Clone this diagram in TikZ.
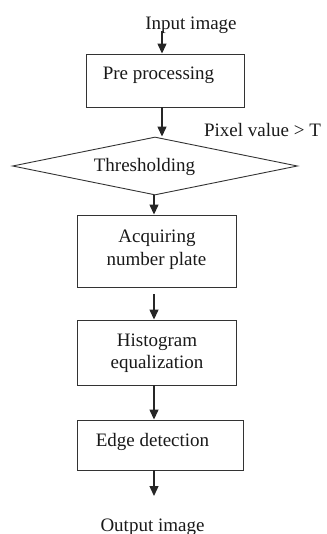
\documentclass[tikz,border=0pt]{standalone}
\usepackage{fontspec}
\setmainfont{Liberation Serif}
\usetikzlibrary{arrows.meta,shapes.geometric}
\begin{document}
\begin{tikzpicture}[x=1pt,y=-1pt,
  box/.style={draw=black!80,line width=0.9pt,rectangle,inner sep=0pt},
  decision/.style={draw=black!80,line width=0.9pt,diamond,inner sep=0pt},
  lbl/.style={font=\fontsize{19}{22}\selectfont,inner sep=0pt,anchor=base,text=black!90},
  arr/.style={draw=black!85,line width=1.3pt,-{Triangle[length=10pt,width=9pt]}}]
\useasboundingbox (0,0) rectangle (326,534);

% process boxes and the decision
\node[box,minimum width=158pt,minimum height=53pt] (pre) at (165,80.5) {};
\node[decision,minimum width=285pt,minimum height=58pt] (thr) at (155,166) {};
\node[box,minimum width=159pt,minimum height=72pt] (acq) at (156.5,251) {};
\node[box,minimum width=159pt,minimum height=65pt] (hist) at (156.5,352.5) {};
\node[box,minimum width=166pt,minimum height=50pt] (edge) at (160,445) {};

% texts
\node[lbl] (inp) at (191,30) {Input image};
\node[lbl] (pret) at (158.5,80) {Pre processing};
\node[lbl] (cond) at (262.5,136.5) {Pixel value > T};
\node[lbl] (thrt) at (144.5,172) {Thresholding};
\node[lbl] (acq1) at (157,242.5) {Acquiring};
\node[lbl] (acq2) at (156.5,265) {number plate};
\node[lbl] (hist1) at (157,346) {Histogram};
\node[lbl] (hist2) at (157,368) {equalization};
\node[lbl] (edget) at (152.5,446) {Edge detection};
\node[lbl] (out) at (152.5,531) {Output image};

% connectors
\coordinate (istart) at (162,31);
\coordinate (oend) at (154,496);
\draw[arr] (istart) -- (istart |- pre.north);
\draw[arr] ([xshift=-3pt]pre.south) -- ([xshift=-3pt]pre.south |- thr.north);
\draw[arr] ([xshift=-1pt]thr.south) -- ([xshift=-1pt]thr.south |- acq.north);
\draw[arr] ([xshift=-2.5pt,yshift=-7pt]acq.south) -- ([xshift=-2.5pt]acq.south |- hist.north);
\draw[arr] ([xshift=-2.5pt]hist.south) -- ([xshift=-2.5pt]hist.south |- edge.north);
\draw[arr] (edge.south -| oend) -- (oend);
\end{tikzpicture}
\end{document}
